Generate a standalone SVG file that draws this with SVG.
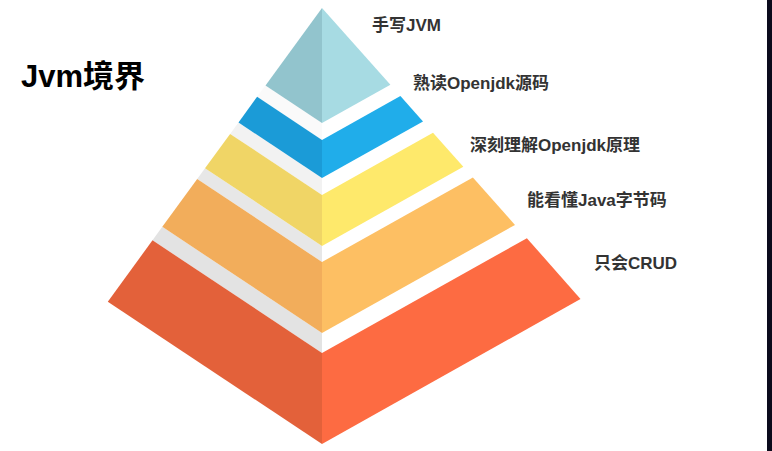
<svg xmlns="http://www.w3.org/2000/svg" width="772" height="451" viewBox="0 0 772 451">
<style>
.lbl{font-family:"Liberation Sans","Noto Sans CJK SC",sans-serif;font-weight:bold;font-size:17px;fill:#333333}
.title{font-family:"Liberation Sans","Noto Sans CJK SC",sans-serif;font-weight:bold;font-size:31px;fill:#000000}
</style>
<rect x="0" y="0" width="772" height="451" fill="#ffffff"/>
<rect x="767" y="0" width="5" height="451" fill="#0b0b1c"/>
<text class="title" x="21" y="87">Jvm境界</text>
<g id="gaps">
<polygon points="265.5,85.4 322,123 322,140 257.1,96.8" fill="#fafafa"/>
<polygon points="238.5,122.5 322,178 322,195 230.1,133.9" fill="#f2f2f2"/>
<polygon points="205,168.2 322,246 322,262 197.2,179" fill="#e7e7e7"/>
<polygon points="162.3,226.8 322,333 322,353 152.5,240.3" fill="#e3e3e3"/>
</g>
<g id="layer1">
<polygon points="322,8 322,123 265.5,85.4" fill="#92c4cd"/>
<polygon points="322,8 390.4,84.8 322,123" fill="#a7dbe3"/>
<text class="lbl" x="372" y="31">手写JVM</text>
</g>
<g id="layer2">
<polygon points="257.1,96.8 322,140 322,178 238.5,122.5" fill="#1b9bd7"/>
<polygon points="322,140 400.4,96.1 423,121.5 322,178" fill="#20adea"/>
<text class="lbl" x="413" y="89">熟读Openjdk源码</text>
</g>
<g id="layer3">
<polygon points="230.1,133.9 322,195 322,246 205,168.2" fill="#f0d566"/>
<polygon points="322,195 433,132.8 463.3,166.8 322,246" fill="#fee96b"/>
<text class="lbl" x="470" y="151">深刻理解Openjdk原理</text>
</g>
<g id="layer4">
<polygon points="197.2,179 322,262 322,333 162.3,226.8" fill="#f2ad5b"/>
<polygon points="322,262 472.9,177.5 515,224.9 322,333" fill="#fdbf63"/>
<text class="lbl" x="527" y="206">能看懂Java字节码</text>
</g>
<g id="layer5">
<polygon points="152.5,240.3 322,353 322,444 107.8,301.7" fill="#e3613a"/>
<polygon points="322,353 526.9,238.2 580.5,299 322,444" fill="#fd6b42"/>
<text class="lbl" x="594" y="269">只会CRUD</text>
</g>
</svg>
